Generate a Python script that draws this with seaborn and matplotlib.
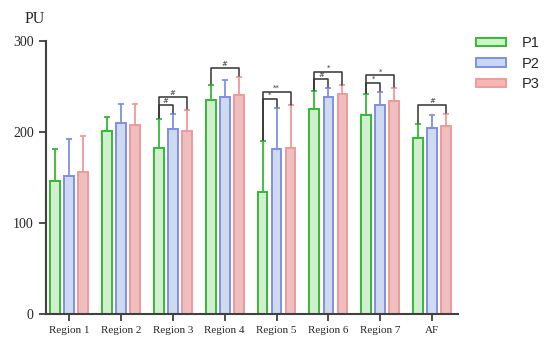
import numpy as np
import pandas as pd
import matplotlib
matplotlib.use("Agg")
import matplotlib.pyplot as plt
import seaborn as sns
from matplotlib.patches import Patch

regions = ["Region 1", "Region 2", "Region 3", "Region 4",
           "Region 5", "Region 6", "Region 7", "AF"]
groups = ["P1", "P2", "P3"]

# bar heights (mean)
p1_mean = [146, 201, 182, 235, 134, 225, 219, 193]
p2_mean = [152, 210, 203, 238, 181, 238, 230, 204]
p3_mean = [156, 208, 201, 241, 182, 242, 234, 206]

# top of the (one sided) error bars
p1_err_top = [181, 216, 214, 252, 190, 245, 242, 209]
p2_err_top = [192, 231, 220, 257, 226, 248, 244, 218]
p3_err_top = [196, 231, 224, 260, 229, 251, 248, 220]

# significance brackets: region, from group, to group, label
sig_region = [2, 2, 3, 4, 4, 5, 5, 6, 6, 7]
sig_from = [0, 0, 0, 0, 0, 0, 0, 0, 0, 0]
sig_to = [1, 2, 2, 1, 2, 1, 2, 1, 2, 2]
sig_label = ["#", "#", "#", "*", "**", "#", "*", "*", "*", "#"]

fills = ["#ccf5c8", "#c8d8f4", "#f7b6b6"]
edges = ["#33bb33", "#8090e0", "#f09a9a"]

df = pd.DataFrame({
    "region": regions * 3,
    "group": np.repeat(groups, len(regions)),
    "value": p1_mean + p2_mean + p3_mean,
})
tops = [p1_err_top, p2_err_top, p3_err_top]
means = [p1_mean, p2_mean, p3_mean]

sns.set_style("white")
fig = plt.figure(figsize=(5.5, 3.52), dpi=100)
ax = fig.add_axes([0.083, 0.108, 0.75, 0.776])

sns.barplot(data=df, x="region", y="value", hue="group", palette=fills,
            errorbar=None, width=0.81, legend=False, ax=ax)

bar_w = 0.19
bar_conts = list(ax.containers)
centers = []
for i, cont in enumerate(bar_conts):
    cs = []
    for bar in cont.patches:
        cx = bar.get_x() + bar.get_width() / 2
        bar.set_x(cx - bar_w / 2)
        bar.set_width(bar_w)
        bar.set_edgecolor(edges[i])
        bar.set_linewidth(1.4)
        cs.append(cx)
    centers.append(cs)

for i in range(3):
    m = np.array(means[i])
    t = np.array(tops[i])
    ax.errorbar(centers[i], m, yerr=[np.zeros_like(m), t - m], fmt="none",
                ecolor=edges[i], elinewidth=1.3, capsize=2.5, capthick=1.3, zorder=1)

# brackets
placed = {}
for r, g1, g2, lab in zip(sig_region, sig_from, sig_to, sig_label):
    hi = max(tops[g][r] for g in range(g1, g2 + 1))
    y = hi + 10
    if r in placed:
        y = max(y + 2, placed[r] + 8)
    placed[r] = y
    x1, x2 = centers[g1][r], centers[g2][r]
    ax.plot([x1, x1, x2, x2], [tops[g1][r] + 1, y, y, tops[g2][r] + 1],
            color="#333333", lw=1.1, zorder=4)
    ax.text((x1 + x2) / 2, y + 1, lab, ha="center", va="bottom",
            fontsize=5, color="#333333")

ax.set_ylim(0, 300)
ax.set_xlim(-0.45, 7.5)
ax.set_yticks([0, 100, 200, 300])
ax.set_xlabel("")
ax.set_ylabel("")
sns.despine(ax=ax)
for s in ["left", "bottom"]:
    ax.spines[s].set_color("#404040")
    ax.spines[s].set_linewidth(1.5)
ax.tick_params(axis="both", direction="out", length=5, width=1.3, color="#404040",
               bottom=True, left=True)
for lbl in ax.get_yticklabels():
    lbl.set_fontfamily("Liberation Serif")
    lbl.set_fontsize(10)
for lbl in ax.get_xticklabels():
    lbl.set_fontfamily("Liberation Serif")
    lbl.set_fontsize(8)

fig.text(0.045, 0.945, "PU", fontsize=11.5, family="Liberation Serif", va="center")

handles = [Patch(facecolor=f, edgecolor=e, linewidth=1.4) for f, e in zip(fills, edges)]
fig.legend(handles, groups, loc="upper left", bbox_to_anchor=(0.841, 0.935),
           frameon=False, handlelength=2.05, handleheight=0.5, labelspacing=0.45,
           handletextpad=1.1, prop={"family": "Liberation Sans", "size": 10.5})

fig.savefig("out.png", dpi=100)
